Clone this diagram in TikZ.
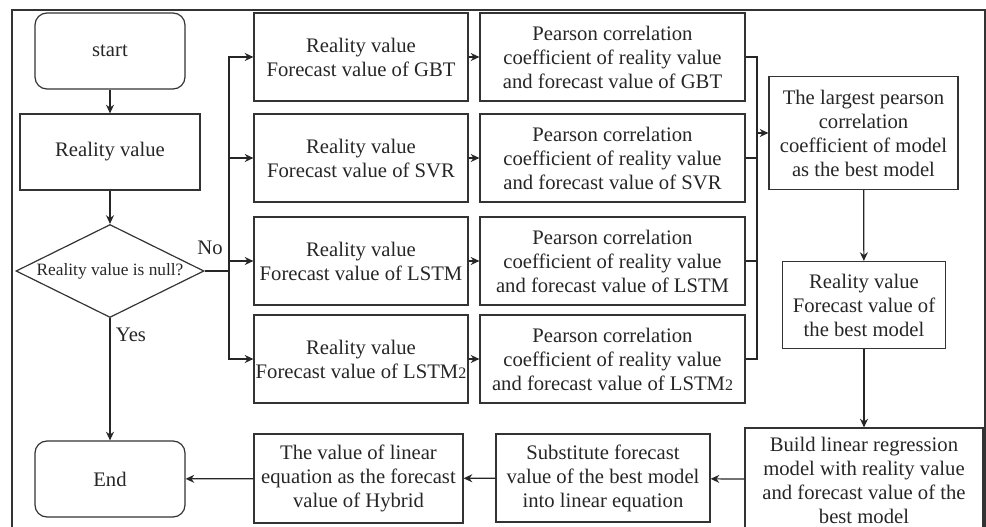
\documentclass[tikz,border=0pt]{standalone}
\usepackage{fontspec}
\setmainfont{Liberation Serif}
\usetikzlibrary{arrows.meta, shapes.geometric}
\tikzset{
	box/.style = {draw=black!80, line width=0.9pt, align=center, inner sep=0pt, text=black!85, font=\fontsize{15.5}{18}\selectfont},
	term/.style = {box, rounded corners=9pt},
	decide/.style = {box, diamond, aspect=2, font=\fontsize{13}{15}\selectfont},
	arr/.style = {-{Stealth[length=6.5pt, width=6pt]}, line width=0.9pt, draw=black!85},
	link/.style = {line width=0.9pt, draw=black!85}
}
\newcommand{\lowtwo}{{\fontsize{12}{12}\selectfont 2}}

\begin{document}
\begin{tikzpicture}[x=0.75pt, y=-0.75pt]
	\def\u{0.75pt}
	\def\Ca{361}
	\def\Cb{612.5}
	
	\useasboundingbox (0,0) rectangle (986,527);
	\draw[line width=0.9pt, black!80]	(12,10) rectangle (985,600);
	
	\node[term, minimum width=150*\u, minimum height=76*\u] (start) at (110,51) {start};
	\node[box, minimum width=180*\u, minimum height=76*\u] (real) at (110,152) {Reality value};
	\node[decide, minimum width=188*\u, minimum height=93*\u] (null) at (110,271) {Reality value is null?};
	\node[term, minimum width=150*\u, minimum height=76*\u] (end) at (110,479) {End};
	
	\node[box, minimum width=214*\u, minimum height=88*\u] (gbt) at (\Ca,57) {Reality value\\Forecast value of GBT};
	\node[box, minimum width=214*\u, minimum height=88*\u] (svr) at (\Ca,158) {Reality value\\Forecast value of SVR};
	\node[box, minimum width=214*\u, minimum height=88*\u] (lstm) at (\Ca,261) {Reality value\\Forecast value of LSTM};
	\node[box, minimum width=214*\u, minimum height=88*\u] (lstmb) at (\Ca,359) {Reality value\\Forecast value of LSTM\lowtwo};
	
	\node[box, minimum width=265*\u, minimum height=88*\u] (pgbt) at (\Cb,57) {Pearson correlation\\coefficient of reality value\\and forecast value of GBT};
	\node[box, minimum width=265*\u, minimum height=88*\u] (psvr) at (\Cb,158) {Pearson correlation\\coefficient of reality value\\and forecast value of SVR};
	\node[box, minimum width=265*\u, minimum height=88*\u] (plstm) at (\Cb,261) {Pearson correlation\\coefficient of reality value\\and forecast value of LSTM};
	\node[box, minimum width=265*\u, minimum height=88*\u] (plstmb) at (\Cb,359) {Pearson correlation\\coefficient of reality value\\and forecast value of LSTM\lowtwo};
	
	\node[box, minimum width=189*\u, minimum height=113*\u] (largest) at (863.5,133) {The largest pearson\\correlation\\coefficient of model\\as the best model};
	\node[box, minimum width=163*\u, minimum height=87*\u] (bestv) at (864,305) {Reality value\\Forecast value of\\the best model};
	\node[box, minimum width=238*\u, minimum height=104*\u] (build) at (864,480) {Build linear regression\\model with reality value\\and forecast value of the\\best model};
	\node[box, minimum width=214*\u, minimum height=88*\u] (subst) at (603,478) {Substitute forecast\\value of the best model\\into linear equation};
	\node[box, minimum width=209*\u, minimum height=89*\u] (hybrid) at (358.5,478.5) {The value of linear\\equation as the forecast\\value of Hybrid};
	
	\coordinate (split) at (229,271);
	\coordinate (join) at (757,133);
	
	\draw[arr]	(start) -- (real);
	\draw[arr]	(real) -- (null);
	\draw[arr]	(null) -- (end);
	\draw[link]	(null.east) -- (split);
	\draw[arr]	(split) |- (gbt.west);
	\draw[arr]	(split) |- (svr.west);
	\draw[arr]	(split) |- (lstm.west);
	\draw[arr]	(split) |- (lstmb.west);
	\draw[arr]	(gbt) -- (pgbt);
	\draw[arr]	(svr) -- (psvr);
	\draw[arr]	(lstm) -- (plstm);
	\draw[arr]	(lstmb) -- (plstmb);
	\draw[link]	(pgbt.east) -| (join);
	\draw[link]	(psvr.east) -| (join);
	\draw[link]	(plstm.east) -| (join);
	\draw[link]	(plstmb.east) -| (join);
	\draw[arr]	(join) -- (largest.west);
	\draw[arr]	(largest) -- (bestv);
	\draw[arr]	(bestv) -- (build);
	\draw[arr]	(build) -- (subst);
	\draw[arr]	(subst) -- (hybrid);
	\draw[arr]	(hybrid) -- (end);
	
	\node[font=\fontsize{15.5}{18}\selectfont, text=black!85] (no) at (210,248) {No};
	\node[font=\fontsize{15.5}{18}\selectfont, text=black!85] (yes) at (131,335) {Yes};
\end{tikzpicture}
\end{document}
